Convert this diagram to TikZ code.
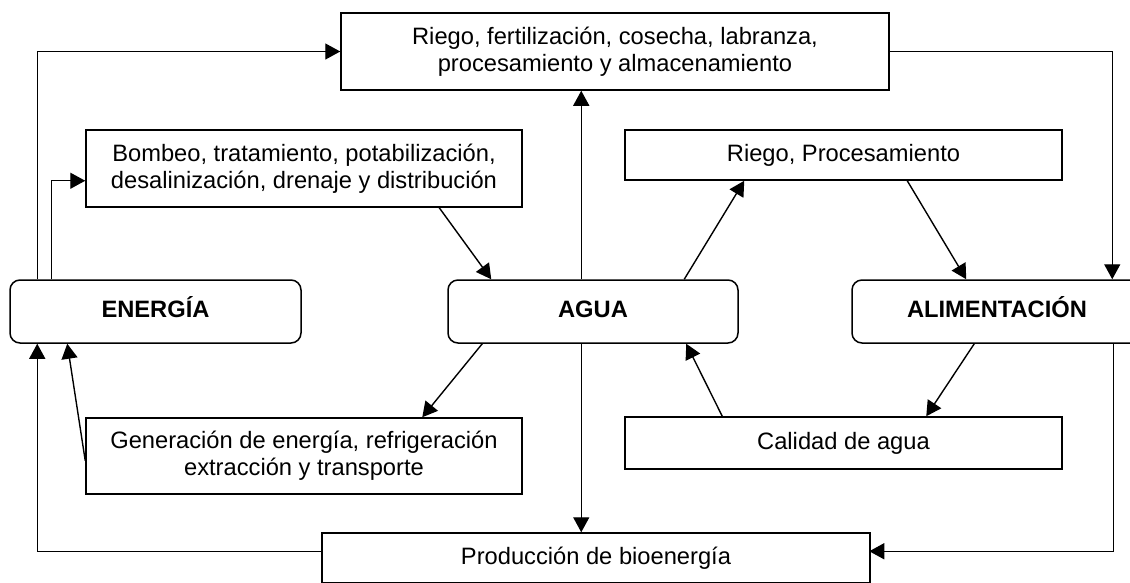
\documentclass[tikz,border=0pt]{standalone}
\usepackage{fontspec}
\setmainfont{Liberation Sans}
\usetikzlibrary{arrows.meta,calc}
\begin{document}
\begin{tikzpicture}[x=1pt,y=-1pt,
  box/.style={draw,line width=1.5pt,rectangle,inner sep=0pt,align=center,font=\fontsize{23.7}{27.3}\selectfont},
  mainbox/.style={box,rounded corners=10pt,text height=17pt,text depth=6pt,font=\fontsize{23.7}{27.3}\selectfont\bfseries},
  arr/.style={line width=1.4pt,-{Triangle[length=15pt,width=16pt]}},
  ln/.style={line width=1.4pt}]
\useasboundingbox (0,0) rectangle (1130,582);
\fill[white] (0,0) rectangle (1130,582);
% boxes
\node[box,minimum width=548pt,minimum height=77pt] (top) at (615,51.5) {Riego, fertilización, cosecha, labranza,\\procesamiento y almacenamiento};
\node[box,minimum width=436pt,minimum height=77pt] (bombeo) at (304,168.5) {Bombeo, tratamiento, potabilización,\\desalinización, drenaje y distribución};
\node[box,minimum width=437pt,minimum height=50pt] (riego) at (843.5,155) {Riego, Procesamiento};
\node[mainbox,minimum width=291pt,minimum height=63pt] (energia) at (155.5,311.5) {ENERGÍA};
\node[mainbox,minimum width=290pt,minimum height=63pt] (agua) at (593,311.5) {AGUA};
\node[mainbox,minimum width=290pt,minimum height=63pt] (alim) at (997,311.5) {ALIMENTACIÓN};
\node[box,minimum width=436pt,minimum height=76pt] (gen) at (304,456) {Generación de energía, refrigeración\\extracción y transporte};
\node[box,minimum width=437pt,minimum height=52pt] (calidad) at (843.5,443) {Calidad de agua};
\node[box,minimum width=548pt,minimum height=50pt] (prod) at (596,558) {Producción de bioenergía};
% helper coordinates
\coordinate (e1) at ($(energia.north west)+(28,0)$);
\coordinate (e2) at ($(energia.north west)+(42,0)$);
\coordinate (b1) at ($(bombeo.south west)+(0,-27)$);
\coordinate (b2) at ($(bombeo.south west)+(354,0)$);
\coordinate (a1) at ($(agua.north west)+(44,0)$);
\coordinate (a2) at ($(agua.north west)+(134,0)$);
\coordinate (a3) at ($(agua.north west)+(237,0)$);
\coordinate (r1) at ($(riego.south west)+(120,0)$);
\coordinate (r2) at ($(riego.south west)+(283,0)$);
\coordinate (l1) at ($(alim.north west)+(115,0)$);
\coordinate (l2) at ($(alim.north west)+(261,0)$);
\coordinate (g1) at ($(gen.south west)+(0,-34)$);
\coordinate (e3) at ($(energia.south west)+(58,0)$);
\coordinate (e4) at ($(energia.south west)+(28,0)$);
\coordinate (a4) at ($(agua.south west)+(35,0)$);
\coordinate (g2) at ($(gen.north west)+(337,0)$);
\coordinate (a5) at ($(agua.south west)+(134,0)$);
\coordinate (c1) at ($(calidad.north west)+(98,0)$);
\coordinate (a6) at ($(agua.south west)+(239,0)$);
\coordinate (l3) at ($(alim.south west)+(123,0)$);
\coordinate (c2) at ($(calidad.north west)+(302,0)$);
\coordinate (l4) at ($(alim.south west)+(262,0)$);
\coordinate (p1) at ($(prod.north west)+(548,19)$);
\coordinate (p2) at ($(prod.north west)+(0,19)$);
% connectors
\draw[arr] (e1) |- (top.west);
\draw[arr] (e2) |- (b1);
\draw[arr] (b2) -- (a1);
\draw[arr] (a2) -- (a2 |- top.south);
\draw[arr] (a3) -- (r1);
\draw[arr] (r2) -- (l1);
\draw[arr] (top.east) -| (l2);
\draw[arr] (g1) -- (e3);
\draw[arr] (a4) -- (g2);
\draw[arr] (a5) -- (a5 |- prod.north);
\draw[arr] (c1) -- (a6);
\draw[arr] (l3) -- (c2);
\draw[arr] (l4) |- (p1);
\draw[arr] (p2) -| (e4);
\end{tikzpicture}
\end{document}
